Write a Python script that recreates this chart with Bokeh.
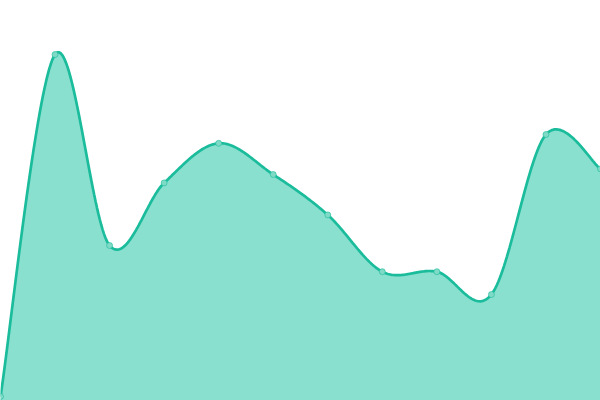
import numpy as np
from bokeh.plotting import figure
from bokeh.embed import file_html
from bokeh.resources import INLINE

# data
x_index = list(range(12))
values = [1.0, 86.5, 38.75, 54.4, 64.3, 56.5, 46.4, 32.2, 32.2, 26.5, 66.5, 57.9]
y_min, y_max = 0, 100

LINE = "#1abc9c"
FILL = "#8ae0cf"
MARK = "#7fdac6"


def cardinal_curve(xs, ys, samples=40):
    xs = np.asarray(xs, float)
    ys = np.asarray(ys, float)
    n = len(xs)
    px = np.concatenate([[xs[0]], xs, [xs[-1]]])
    py = np.concatenate([[ys[0]], ys, [ys[-1]]])
    outx, outy = [], []
    t = np.linspace(0, 1, samples)
    for i in range(n - 1):
        p0x, p1x, p2x, p3x = px[i], px[i + 1], px[i + 2], px[i + 3]
        p0y, p1y, p2y, p3y = py[i], py[i + 1], py[i + 2], py[i + 3]
        c1x = p1x + (p2x - p0x) / 6
        c1y = p1y + (p2y - p0y) / 6
        c2x = p2x - (p3x - p1x) / 6
        c2y = p2y - (p3y - p1y) / 6
        bx = (1 - t) ** 3 * p1x + 3 * (1 - t) ** 2 * t * c1x + 3 * (1 - t) * t ** 2 * c2x + t ** 3 * p2x
        by = (1 - t) ** 3 * p1y + 3 * (1 - t) ** 2 * t * c1y + 3 * (1 - t) * t ** 2 * c2y + t ** 3 * p2y
        if i > 0:
            bx, by = bx[1:], by[1:]
        outx.extend(bx)
        outy.extend(by)
    return np.array(outx), np.array(outy)


cx, cy = cardinal_curve(x_index, values)

p = figure(width=600, height=400, output_backend="svg", toolbar_location=None,
           x_range=(x_index[0], x_index[-1]), y_range=(y_min, y_max),
           min_border=0, min_border_left=0, min_border_right=0,
           min_border_top=0, min_border_bottom=0)
p.axis.visible = False
p.grid.visible = False
p.outline_line_color = None
p.background_fill_color = "white"
p.border_fill_color = "white"

p.varea(x=cx, y1=np.zeros_like(cy) + y_min, y2=cy, fill_color=FILL, fill_alpha=1.0)
p.line(cx, cy, line_color=LINE, line_width=2.7)
p.scatter(x_index, values, size=6, fill_color=MARK, line_color=LINE, line_width=1, line_alpha=0.6)

open("out.html", "w").write(file_html(p, INLINE))
